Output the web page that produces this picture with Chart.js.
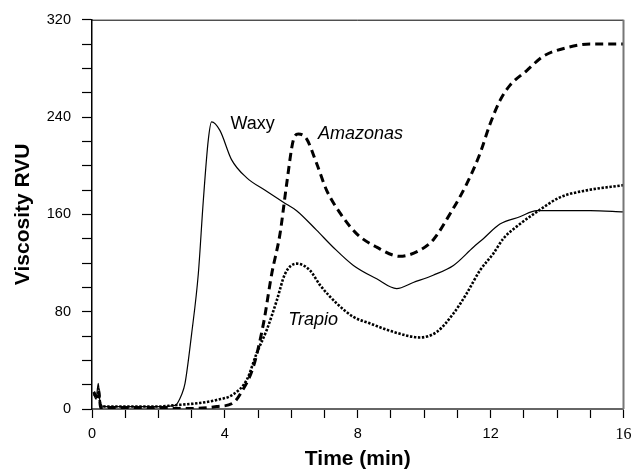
<!DOCTYPE html>
<html>
<head>
<meta charset="utf-8">
<script src="https://cdn.jsdelivr.net/npm/chart.js@4"></script>
<style>
  html, body { margin: 0; padding: 0; background: #fff; }
  #wrap { width: 643px; height: 475px; }
</style>
</head>
<body>
<div id="wrap"><canvas id="rvuChart"></canvas></div>
<script>
// tick labels
const xTickLabels = [0, 4, 8, 12, 16];
const yTickLabels = [0, 80, 160, 240, 320];

// Waxy
const waxyTime = [0.05, 0.12, 0.19, 0.25, 0.4, 1, 2, 2.5, 2.7, 2.8, 3.0, 3.2, 3.35, 3.5, 3.6,
  3.85, 4.2, 4.66, 5.2, 5.76, 6.16, 6.76, 7.26, 7.87, 8.57, 9.17, 9.67, 10.27, 10.88,
  11.48, 11.78, 12.28, 12.88, 13.39, 14.29, 15.0, 16];
const waxyRVU = [12, 8, 21, 3, 2, 2, 2, 3, 12, 21, 62, 111, 171, 221, 236,
  229, 205, 190, 180, 170, 163, 147, 133, 118, 107, 99, 104, 110, 118,
  133, 140, 152, 158, 163, 163, 163, 162];

// Amazonas
const amazonasTime = [0.05, 0.15, 0.2, 0.26, 0.5, 1, 2, 3, 3.75, 4.25, 4.5, 4.86, 5.16, 5.41, 5.66,
  5.86, 6.06, 6.21, 6.46, 6.76, 7.06, 7.47, 7.97, 8.57, 9.27, 9.87, 10.27, 10.78, 11.28, 11.68,
  11.98, 12.28, 12.58, 13.08, 13.59, 14.29, 15.0, 16];
const amazonasRVU = [14, 10, 16, 1, 0.5, 0.5, 0.5, 0.5, 2, 5, 14, 35, 70, 111, 144,
  185, 221, 226, 222, 202, 180, 161, 144, 133, 125.5, 130.5, 139, 160.5, 185, 210,
  234, 253.5, 266, 278, 290, 297, 300, 300];

// Trapio
const trapioTime = [0.05, 0.18, 0.27, 0.5, 1, 2, 2.45, 3.25, 3.75, 4.25, 4.66, 4.96, 5.26, 5.56, 5.81,
  6.16, 6.56, 6.86, 7.37, 7.87, 8.37, 9.07, 9.87, 10.38, 10.88, 11.28, 11.68, 12.08, 12.38, 12.88,
  13.39, 14.09, 14.89, 16];
const trapioRVU = [11, 13, 3, 2, 2, 2, 3, 5, 7.4, 12, 24, 46, 65, 89, 111,
  119.5, 114, 102, 86.7, 75.7, 70.3, 63.4, 58.8, 63.4, 78.5, 95, 114, 127.7, 140, 152,
  162, 174, 179.7, 184];

// in-plot curve names, anchored in data units (left edge, baseline)
const curveLabels = [
  { text: 'Waxy', t: 4.17, v: 230, italic: false },
  { text: 'Amazonas', t: 6.8, v: 222, italic: true },
  { text: 'Trapio', t: 5.91, v: 69, italic: true }
];

const toPoints = (ts, vs) => ts.map((t, i) => ({ x: t, y: vs[i] }));

const frame = {
  id: 'frame',
  afterDatasetsDraw(chart) {
    const { ctx, chartArea: a, scales } = chart;
    ctx.save();
    ctx.strokeStyle = '#000';
    ctx.lineWidth = 1;
    ctx.beginPath();
    ctx.moveTo(a.left, a.top + 0.5);
    ctx.lineTo(a.right, a.top + 0.5);
    ctx.stroke();
    ctx.strokeStyle = '#777';
    ctx.lineWidth = 2;
    ctx.beginPath();
    ctx.moveTo(a.right, a.top);
    ctx.lineTo(a.right, a.bottom);
    ctx.stroke();

    ctx.fillStyle = '#000';
    ctx.textAlign = 'left';
    ctx.textBaseline = 'alphabetic';
    curveLabels.forEach(l => {
      ctx.font = (l.italic ? 'italic ' : '') + '18px "Liberation Sans", Arial, sans-serif';
      ctx.fillText(l.text, scales.x.getPixelForValue(l.t), scales.y.getPixelForValue(l.v));
    });
    ctx.restore();
  }
};

new Chart(document.getElementById('rvuChart'), {
  type: 'line',
  data: {
    datasets: [
      {
        label: 'Waxy',
        data: toPoints(waxyTime, waxyRVU),
        borderColor: '#000',
        borderWidth: 1.2,
        pointRadius: 0,
        cubicInterpolationMode: 'monotone'
      },
      {
        label: 'Amazonas',
        data: toPoints(amazonasTime, amazonasRVU),
        borderColor: '#000',
        borderWidth: 3,
        borderDash: [8, 5],
        pointRadius: 0,
        cubicInterpolationMode: 'monotone'
      },
      {
        label: 'Trapio',
        data: toPoints(trapioTime, trapioRVU),
        borderColor: '#000',
        borderWidth: 2.6,
        borderDash: [2.4, 1.6],
        pointRadius: 0,
        cubicInterpolationMode: 'monotone'
      }
    ]
  },
  options: {
    responsive: true,
    maintainAspectRatio: false,
    animation: false,
    layout: { padding: { left: 0, right: 19.5, top: 19, bottom: 0 } },
    plugins: {
      legend: { display: false },
      tooltip: { enabled: false }
    },
    scales: {
      x: {
        type: 'linear',
        min: 0,
        max: 16,
        afterFit: s => { s.height = 66; },
        border: { color: '#666', width: 2 },
        grid: { drawOnChartArea: false, tickLength: 9, tickColor: '#000', tickWidth: 1.2 },
        ticks: {
          stepSize: 1,
          autoSkip: false,
          maxRotation: 0,
          padding: 7,
          color: '#000',
          font: c => ({
            family: c.tick && c.tick.value === 16 ? '"Liberation Serif", serif' : '"Liberation Sans", Arial, sans-serif',
            size: c.tick && c.tick.value === 16 ? 16 : 14.5
          }),
          callback: v => xTickLabels.includes(v) ? String(v) : ''
        },
        title: {
          display: true,
          text: 'Time (min)',
          color: '#000',
          font: { family: '"Liberation Sans", Arial, sans-serif', size: 21, weight: 'bold' },
          padding: { top: 0, bottom: 3 }
        }
      },
      y: {
        min: 0,
        max: 320,
        afterFit: s => { s.width = 92; },
        border: { color: '#000', width: 1.5 },
        grid: { drawOnChartArea: false, tickLength: 10, tickColor: '#000', tickWidth: 1.2 },
        ticks: {
          stepSize: 20,
          autoSkip: false,
          padding: 11,
          color: '#000',
          font: { family: '"Liberation Sans", Arial, sans-serif', size: 14.5 },
          callback: v => yTickLabels.includes(v) ? String(v) : ''
        },
        title: {
          display: true,
          text: 'Viscosity RVU',
          color: '#000',
          font: { family: '"Liberation Sans", Arial, sans-serif', size: 21, weight: 'bold' },
          padding: { top: 11, bottom: 0 }
        }
      }
    }
  },
  plugins: [frame]
});
</script>
</body>
</html>
